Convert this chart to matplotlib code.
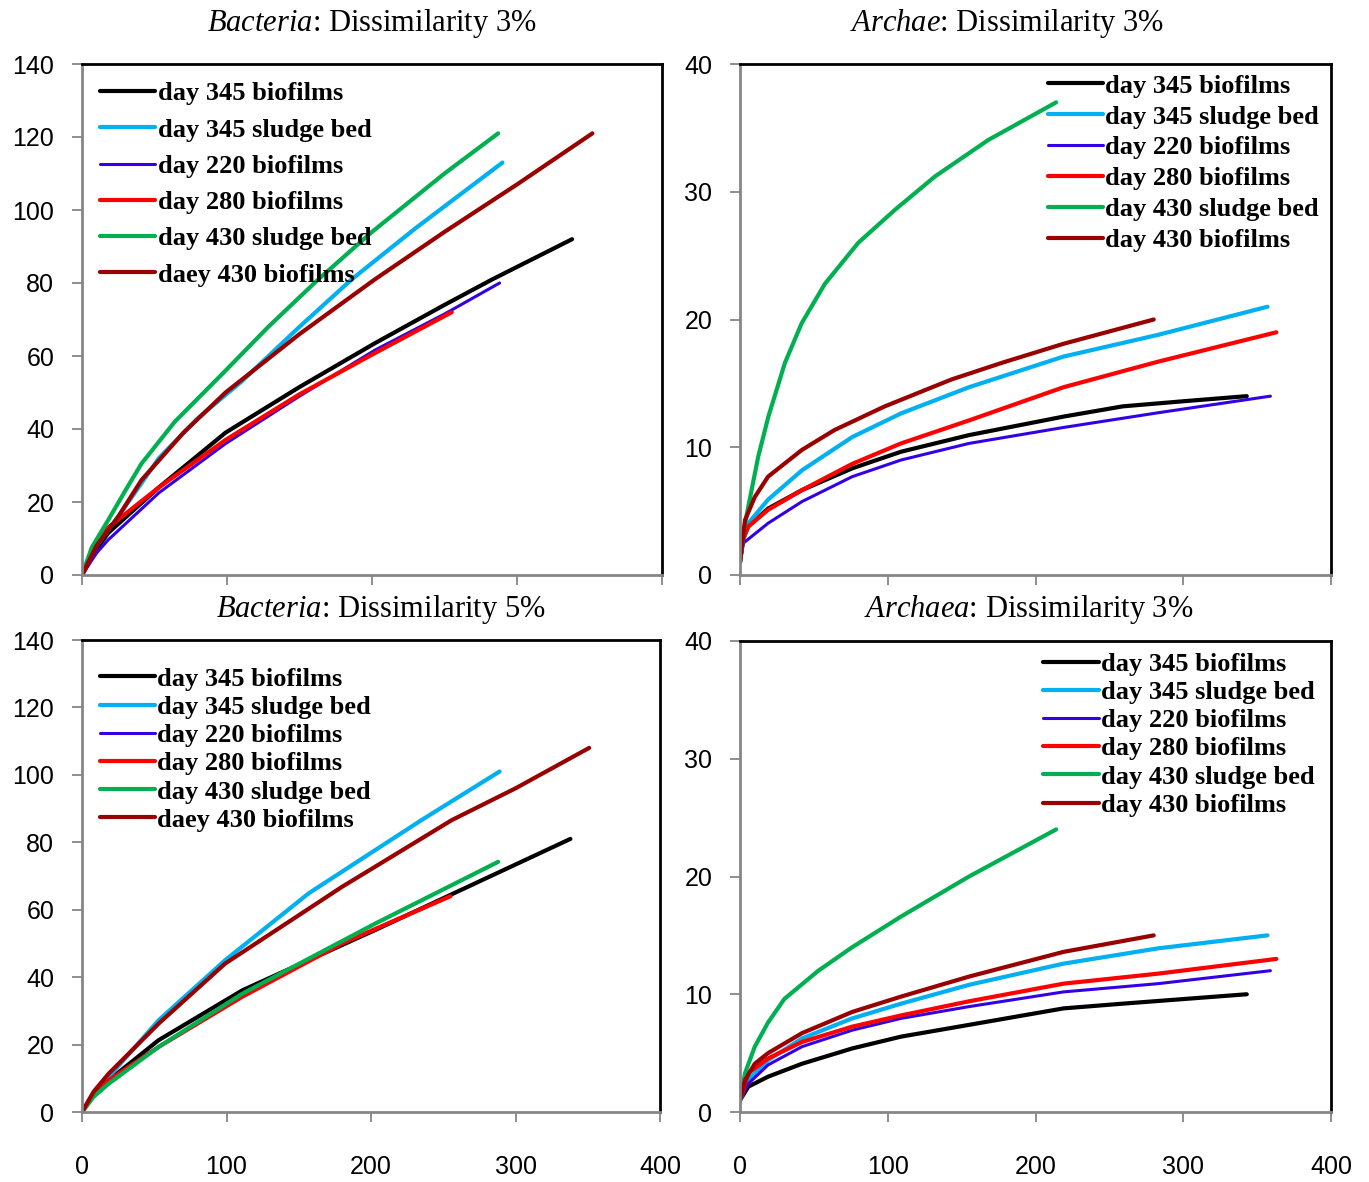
import matplotlib
matplotlib.use("Agg")
import matplotlib.pyplot as plt

# Curvas de rarefaccion
bac_labels = ["day 345 biofilms", "day 345 sludge bed", "day 220 biofilms",
              "day 280 biofilms", "day 430 sludge bed", "daey 430 biofilms"]
arc_labels = ["day 345 biofilms", "day 345 sludge bed", "day 220 biofilms",
              "day 280 biofilms", "day 430 sludge bed", "day 430 biofilms"]

# Bacteria 3%
bac3_x = [[0, 10, 18, 53, 99, 150, 202, 250, 283, 338],
          [0, 10, 25, 53, 80, 110, 150, 186, 230, 290],
          [0, 10, 18, 53, 99, 150, 202, 250, 288],
          [0, 10, 18, 53, 99, 150, 202, 255],
          [0, 6.7, 18, 29.7, 41, 64, 99, 128.5, 163, 200, 250, 287],
          [0, 10, 25, 41, 70, 99, 150, 202, 250, 300, 352]]
bac3_y = [[0, 7, 11.5, 24, 39, 51.5, 63.5, 74, 81, 92],
          [0, 8, 16, 32, 43, 53, 68, 81, 95, 113],
          [0, 6, 9.6, 22.5, 36, 49, 61.6, 71.5, 80],
          [0, 8, 13, 24, 37, 49.5, 60.8, 72],
          [0, 7.5, 15, 23, 30.5, 42, 56, 68, 81, 94, 110, 121],
          [0, 8, 16, 26, 39, 50, 66, 81, 94, 107, 121]]

# Archae 3% (arriba)
arc3a_x = [[0, 2, 5.6, 19, 42, 76, 109, 155, 219, 259, 300, 343],
           [0, 2, 5.6, 19, 42, 76, 109, 155, 219, 283, 357],
           [0, 2.3, 19, 42, 76, 109, 155, 219, 283, 359],
           [0, 2, 5.6, 19, 42, 76, 109, 155, 219, 283, 363],
           [0, 2.3, 5.6, 12.4, 19.2, 30.4, 41.7, 57.5, 80, 105, 132, 168, 214],
           [0, 3.4, 10, 19, 42, 64, 98, 143, 177, 219, 280]]
arc3a_y = [[1, 2.8, 3.8, 5.2, 6.65, 8.35, 9.65, 10.95, 12.4, 13.2, 13.6, 14],
           [1, 2.6, 4.05, 5.9, 8.2, 10.8, 12.65, 14.7, 17.1, 18.8, 21],
           [1, 2.5, 4.05, 5.75, 7.7, 9, 10.3, 11.55, 12.7, 14],
           [1, 2.8, 3.8, 5.1, 6.65, 8.7, 10.3, 12.1, 14.7, 16.7, 19],
           [1, 3.3, 5.35, 9.3, 12.4, 16.6, 19.7, 22.8, 26, 28.6, 31.2, 34.05, 37],
           [1, 4.3, 6.1, 7.7, 9.8, 11.35, 13.2, 15.3, 16.6, 18.1, 20]]

# Bacteria 5%
bac5_x = [[0, 8, 18.5, 53, 111, 203, 307, 338],
          [0, 8, 18.5, 53, 99, 157, 235, 289],
          [],
          [0, 8, 18.5, 53, 111, 180, 255],
          [0, 8, 18.5, 53, 111, 203, 288],
          [0, 8, 18.5, 53, 99, 180, 256, 300, 351]]
bac5_y = [[0, 5, 9.4, 21.3, 36.1, 54, 74.8, 81],
          [0, 5, 10.4, 27.2, 45, 64.9, 86.6, 101],
          [],
          [0, 5, 9.4, 19.3, 34.2, 50, 64],
          [0, 4.5, 8.4, 19.3, 35.1, 55.9, 74.2],
          [0, 6, 11.4, 26.2, 44, 66.8, 86.6, 96, 108]]

# Archaea 3% (abajo)
arc3b_x = [[0, 5.6, 19, 42, 76, 109, 155, 219, 259, 343],
           [0, 5.6, 19, 42, 76, 109, 155, 219, 283, 357],
           [0, 5.6, 19, 42, 76, 109, 155, 219, 283, 359],
           [0, 5.6, 19, 42, 76, 109, 155, 219, 283, 363],
           [0, 3.4, 10, 19, 30, 53, 76, 109, 155, 214],
           [0, 3.4, 10, 19, 42, 76, 109, 155, 219, 280]]
arc3b_y = [[1, 2.15, 3, 4.1, 5.4, 6.4, 7.4, 8.8, 9.2, 10],
           [1, 2.7, 4.4, 6.25, 7.95, 9.2, 10.8, 12.6, 13.9, 15],
           [1, 2.4, 4, 5.55, 6.95, 7.95, 8.95, 10.2, 10.9, 12],
           [1, 3.3, 4.55, 5.95, 7.25, 8.2, 9.4, 10.9, 11.75, 13],
           [1, 3.3, 5.55, 7.6, 9.6, 12, 14, 16.6, 20, 24],
           [1, 2.7, 4.1, 5, 6.7, 8.5, 9.8, 11.5, 13.6, 15]]

colors = ["#000000", "#00B0F0", "#3300E6", "#FF0000", "#00B050", "#990000"]
widths = [3.0, 3.0, 2.2, 3.0, 3.0, 3.0]

plt.rcParams['font.family'] = 'Liberation Sans'
plt.rcParams['mathtext.fontset'] = 'custom'
plt.rcParams['mathtext.rm'] = 'Liberation Serif'
plt.rcParams['mathtext.it'] = 'Liberation Serif:italic'

W, H = 1369, 1182
fig = plt.figure(figsize=(W / 100, H / 100), dpi=100)


def px_axes(x0, x1, y0, y1):
    return fig.add_axes([x0 / W, 1 - y1 / H, (x1 - x0) / W, (y1 - y0) / H])


ax_tl = px_axes(82, 662, 64, 575)
ax_tr = px_axes(740, 1331, 64, 575)
ax_bl = px_axes(82, 660, 640, 1112)
ax_br = px_axes(740, 1331, 641, 1112)

panels = [
    (ax_tl, bac3_x, bac3_y, bac_labels, 140, 20, False, (0.031, 0.965), 0.485),
    (ax_tr, arc3a_x, arc3a_y, arc_labels, 40, 10, False, (0.521, 0.980), 0.28),
    (ax_bl, bac5_x, bac5_y, bac_labels, 140, 20, True, (0.031, 0.9425), 0.18),
    (ax_br, arc3b_x, arc3b_y, arc_labels, 40, 10, True, (0.513, 0.976), 0.18),
]

for ax, xs, ys, labels, ymax, ystep, show_x, anchor, lsp in panels:
    for x, y, lab, c, lw in zip(xs, ys, labels, colors, widths):
        ax.plot(x, y, color=c, lw=lw, label=lab, solid_capstyle='round',
                solid_joinstyle='round')
    ax.set_xlim(0, 400)
    ax.set_ylim(0, ymax)
    ax.set_xticks(range(0, 401, 100))
    ax.set_yticks(range(0, ymax + 1, ystep))
    for s in ['left', 'bottom']:
        ax.spines[s].set_color('#868686')
        ax.spines[s].set_linewidth(2)
    for s in ['top', 'right']:
        ax.spines[s].set_color('black')
        ax.spines[s].set_linewidth(2)
    ax.tick_params(axis='y', direction='out', length=7, width=1.3, color='#868686',
                   labelsize=18, pad=13)
    ax.tick_params(axis='x', direction='out', length=7, width=1.3, color='#868686',
                   labelsize=18, pad=24, labelbottom=show_x)
    ax.legend(loc='upper left', bbox_to_anchor=anchor, frameon=False,
              borderpad=0, borderaxespad=0, handlelength=2.1,
              handletextpad=0.08, labelspacing=lsp,
              prop={'family': 'Liberation Serif', 'weight': 'bold', 'size': 19})

tfont = dict(family='Liberation Serif', fontsize=22, ha='center', va='center')
fig.text(372 / W, 1 - 24 / H, r"$\mathit{Bacteria}$: Dissimilarity 3%", **tfont)
fig.text(1007 / W, 1 - 24 / H, r"$\mathit{Archae}$: Dissimilarity 3%", **tfont)
fig.text(381 / W, 1 - 610 / H, r"$\mathit{Bacteria}$: Dissimilarity 5%", **tfont)
fig.text(1029 / W, 1 - 610 / H, r"$\mathit{Archaea}$: Dissimilarity 3%", **tfont)

fig.savefig("out.png", dpi=100)
